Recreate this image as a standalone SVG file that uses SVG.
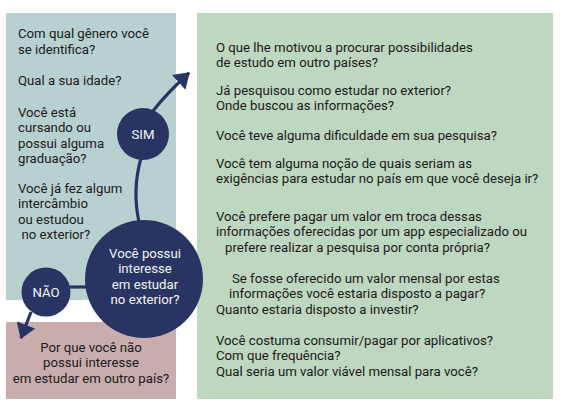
<svg xmlns="http://www.w3.org/2000/svg" width="563" height="414" viewBox="0 0 563 414">
<style>
text{font-family:Roboto,"Liberation Sans",sans-serif;font-size:13.2px;fill:#1a1a1a}
.w{fill:#f4f4f8;text-anchor:middle}
.c{text-anchor:middle}
.navy{fill:#293462}
.ln{fill:none;stroke:#293462;stroke-width:3.2}
</style>
<defs>
<marker id="ah" viewBox="0 0 15 20" markerWidth="15" markerHeight="20" refX="14" refY="10" orient="auto" markerUnits="userSpaceOnUse">
<path d="M0,0 L15,10 L0,20 z" fill="#293462"/>
</marker>
</defs>
<rect width="563" height="414" fill="#ffffff"/>
<g id="perfil">
<rect x="6" y="13" width="170" height="287" fill="#b9d0d0"/>
<text x="18" y="38">Com qual gênero você</text>
<text x="18" y="53.5">se identifica?</text>
<text x="18" y="85">Qual a sua idade?</text>
<text x="18" y="116.5">Você está</text>
<text x="18" y="132">cursando ou</text>
<text x="18" y="147.5">possui alguma</text>
<text x="18" y="163">graduação?</text>
<text x="18" y="192.5">Você já fez algum</text>
<text x="18" y="208">intercâmbio</text>
<text x="18" y="223.5">ou estudou</text>
<text x="21.5" y="239">no exterior?</text>
</g>
<g id="nao-box">
<rect x="6" y="322" width="170" height="77" fill="#c9adad"/>
<text class="c" x="91" y="351.5">Por que você não</text>
<text class="c" x="91" y="367">possui interesse</text>
<text class="c" x="91" y="382.5">em estudar em outro país?</text>
</g>
<g id="sim-box">
<rect x="197" y="13" width="356" height="386" fill="#bfd6c0"/>
<text x="216" y="51.5">O que lhe motivou a procurar possibilidades</text>
<text x="216" y="67">de estudo em outro países?</text>
<text x="216" y="94.5">Já pesquisou como estudar no exterior?</text>
<text x="216" y="110">Onde buscou as informações?</text>
<text x="216" y="139.5">Você teve alguma dificuldade em sua pesquisa?</text>
<text x="216" y="167.5">Você tem alguma noção de quais seriam as</text>
<text x="216" y="183">exigências para estudar no país em que você deseja ir?</text>
<text x="216" y="220.5">Você prefere pagar um valor em troca dessas</text>
<text x="216" y="236">informações oferecidas por um app especializado ou</text>
<text x="225" y="251.5">prefere realizar a pesquisa por conta própria?</text>
<text x="232" y="282.5">Se fosse oferecido um valor mensal por estas</text>
<text x="229" y="298">informações você estaria disposto a pagar?</text>
<text x="216" y="313.5">Quanto estaria disposto a investir?</text>
<text x="216" y="344.5">Você costuma consumir/pagar por aplicativos?</text>
<text x="216" y="360">Com que frequência?</text>
<text x="216" y="375.5">Qual seria um valor viável mensal para você?</text>
</g>
<g id="connectors">
<path class="ln" d="M141,158 Q132,190 139,222"/>
<path class="ln" d="M153,111 Q167,93 189,73" marker-end="url(#ah)"/>
<path class="ln" d="M68,287 L88,287"/>
<path class="ln" d="M31,312 L21,338" marker-end="url(#ah)"/>
</g>
<g id="pergunta">
<circle class="navy" cx="144" cy="279" r="59"/>
<text class="w" x="145" y="257.5">Você possui</text>
<text class="w" x="145" y="273">interesse</text>
<text class="w" x="145" y="288.5">em estudar</text>
<text class="w" x="145" y="304">no exterior?</text>
</g>
<g id="sim">
<circle class="navy" cx="143" cy="134" r="26"/>
<text class="w" x="143" y="138.5">SIM</text>
</g>
<g id="nao">
<circle class="navy" cx="46" cy="292" r="24.5"/>
<text class="w" x="46" y="296.5">NÃO</text>
</g>
</svg>
